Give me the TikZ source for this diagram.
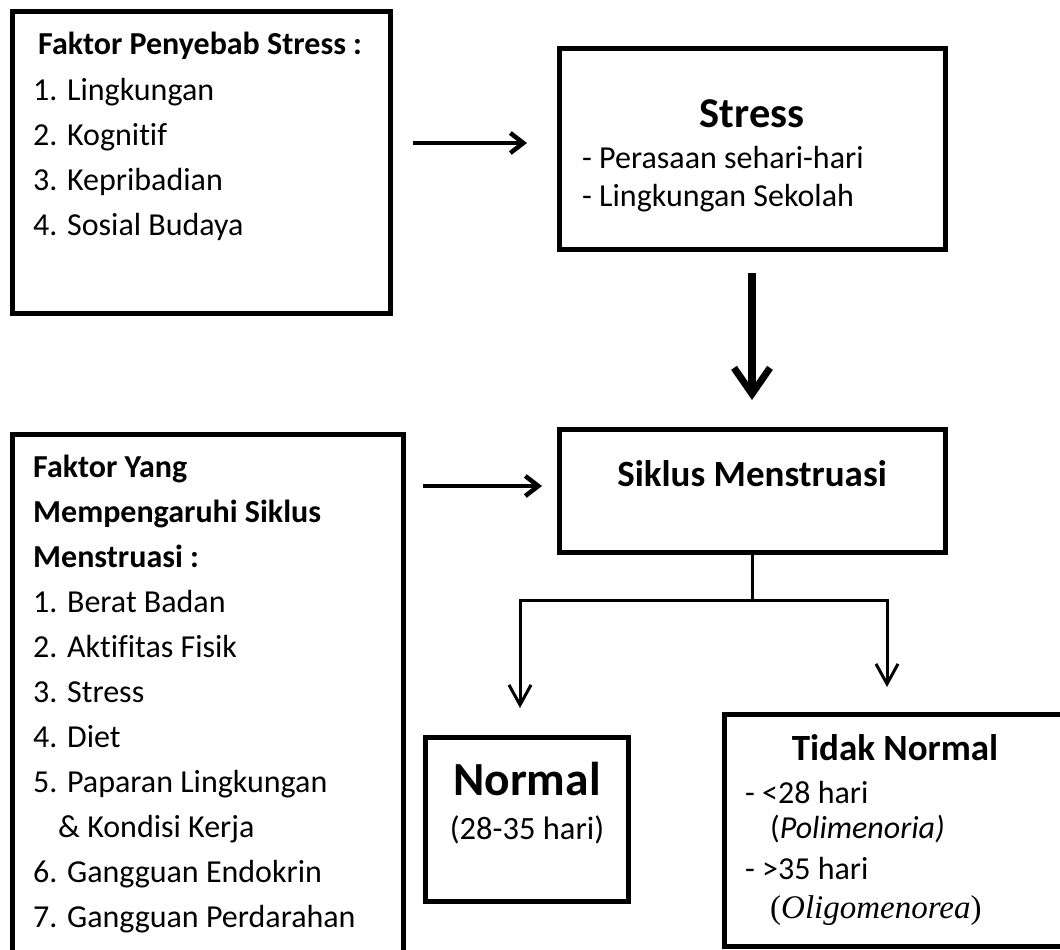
\documentclass[tikz,border=0pt]{standalone}
\usepackage{fontspec}
\setmainfont{Carlito}[Ligatures={NoCommon}]
\newfontfamily\serifit{Liberation Serif}
\usetikzlibrary{arrows.meta,calc}
\begin{document}
\begin{tikzpicture}[x=1pt,y=-1pt,
  box/.style={draw=black,line width=5pt,inner sep=0pt,outer sep=0pt,anchor=north west},
  txt/.style={inner sep=0pt,anchor=base west,font=\fontsize{32}{36}\selectfont},
  btxt/.style={inner sep=0pt,anchor=base west,font=\fontsize{32}{36}\selectfont\bfseries},
  thinarrow/.style={line width=3pt,-{Straight Barb[length=20pt,width=22pt,line width=3pt]}},
  sidearrow/.style={line width=4.5pt,-{Straight Barb[length=13pt,width=20pt,line width=4.5pt]}},
  bigarrow/.style={line width=8pt,-{Straight Barb[length=26pt,width=36pt,line width=7pt]}},
  conn/.style={line width=3pt}]
\useasboundingbox (0,0) rectangle (1060,950);
\clip (0,0) rectangle (1060,950);
\fill[white] (0,0) rectangle (1060,950);

% boxes
\node[box,minimum width=378pt,minimum height=301pt] (f1) at (12,12) {};
\node[box,minimum width=386pt,minimum height=200pt] (st) at (559,49) {};
\node[box,minimum width=386pt,minimum height=123pt] (sik) at (559,429) {};
\node[box,minimum width=391pt,minimum height=530pt] (f2) at (12,434) {};
\node[box,minimum width=203pt,minimum height=164pt] (nor) at (425,737) {};
\node[box,minimum width=360pt,minimum height=232pt] (tn) at (724,714) {};

% box 1 text
\node[btxt] (f1t) at (38,55) {Faktor Penyebab Stress :};
\node[txt] (f1a) at (33,100) {1. Lingkungan};
\node[txt] (f1b) at (33,145) {2. Kognitif};
\node[txt] (f1c) at (33,190) {3. Kepribadian};
\node[txt] (f1d) at (33,235) {4. Sosial Budaya};

% stress text
\node[inner sep=0pt,anchor=base,font=\fontsize{42.5}{46}\selectfont\bfseries] (stt) at (752,127) {Stress};
\node[txt] (sta) at (582,168) {- Perasaan sehari-hari};
\node[txt] (stb) at (582,206) {- Lingkungan Sekolah};

% siklus
\node[inner sep=0pt,anchor=base,font=\fontsize{37}{40}\selectfont\bfseries] (sikt) at (752,486) {Siklus Menstruasi};

% box 2 text
\node[btxt] (f2t1) at (33,477) {Faktor Yang};
\node[btxt] (f2t2) at (33,522) {Mempengaruhi Siklus};
\node[btxt] (f2t3) at (33,567) {Menstruasi :};
\node[txt] (f2a) at (33,612) {1. Berat Badan};
\node[txt] (f2b) at (33,657) {2. Aktifitas Fisik};
\node[txt] (f2c) at (33,702) {3. Stress};
\node[txt] (f2d) at (33,747) {4. Diet};
\node[txt] (f2e) at (33,792) {5. Paparan Lingkungan};
\node[txt] (f2f) at (58,837) {\& Kondisi Kerja};
\node[txt] (f2g) at (33,882) {6. Gangguan Endokrin};
\node[txt] (f2h) at (33,927) {7. Gangguan Perdarahan};

% normal
\node[inner sep=0pt,anchor=base,font=\fontsize{47.5}{50}\selectfont\bfseries] (nort) at (527,795) {Normal};
\node[inner sep=0pt,anchor=base,font=\fontsize{32.5}{36}\selectfont] (nora) at (527,839) {(28-35 hari)};

% tidak normal
\node[inner sep=0pt,anchor=base,font=\fontsize{37}{40}\selectfont\bfseries] (tnt) at (895,760) {Tidak Normal};
\node[txt] (tna) at (745,803) {- <28 hari};
\node[txt] (tnb) at (770,838) {(\textit{Polimenoria)}};
\node[txt] (tnc) at (745,879) {- >35 hari};
\node[txt,font=\fontsize{33}{36}\selectfont\serifit] (tnd) at (770,918) {(\textit{Oligomenorea})};

% connectors
\coordinate (a1s) at ($(f1.east |- 0,143)+(23,0)$);
\coordinate (a1e) at ($(st.west |- 0,143)+(-32,0)$);
\draw[sidearrow] (a1s) -- (a1e);
\coordinate (a2s) at ($(f2.east |- 0,486)+(20,0)$);
\coordinate (a2e) at ($(sik.west |- 0,486)+(-17,0)$);
\draw[sidearrow] (a2s) -- (a2e);

\coordinate (ds) at ($(st.south)+(0,24)$);
\coordinate (de) at ($(sik.north)+(0,-29)$);
\draw[bigarrow] (ds) -- (de);

\coordinate (split) at ($(sik.south)+(0,48)$);
\coordinate (nl) at (520,708);
\coordinate (tr) at (887,687);
\draw[conn] (sik.south) -- (split);
\draw[thinarrow] (split) -| (nl);
\draw[thinarrow] (split) -| (tr);
\end{tikzpicture}
\end{document}
